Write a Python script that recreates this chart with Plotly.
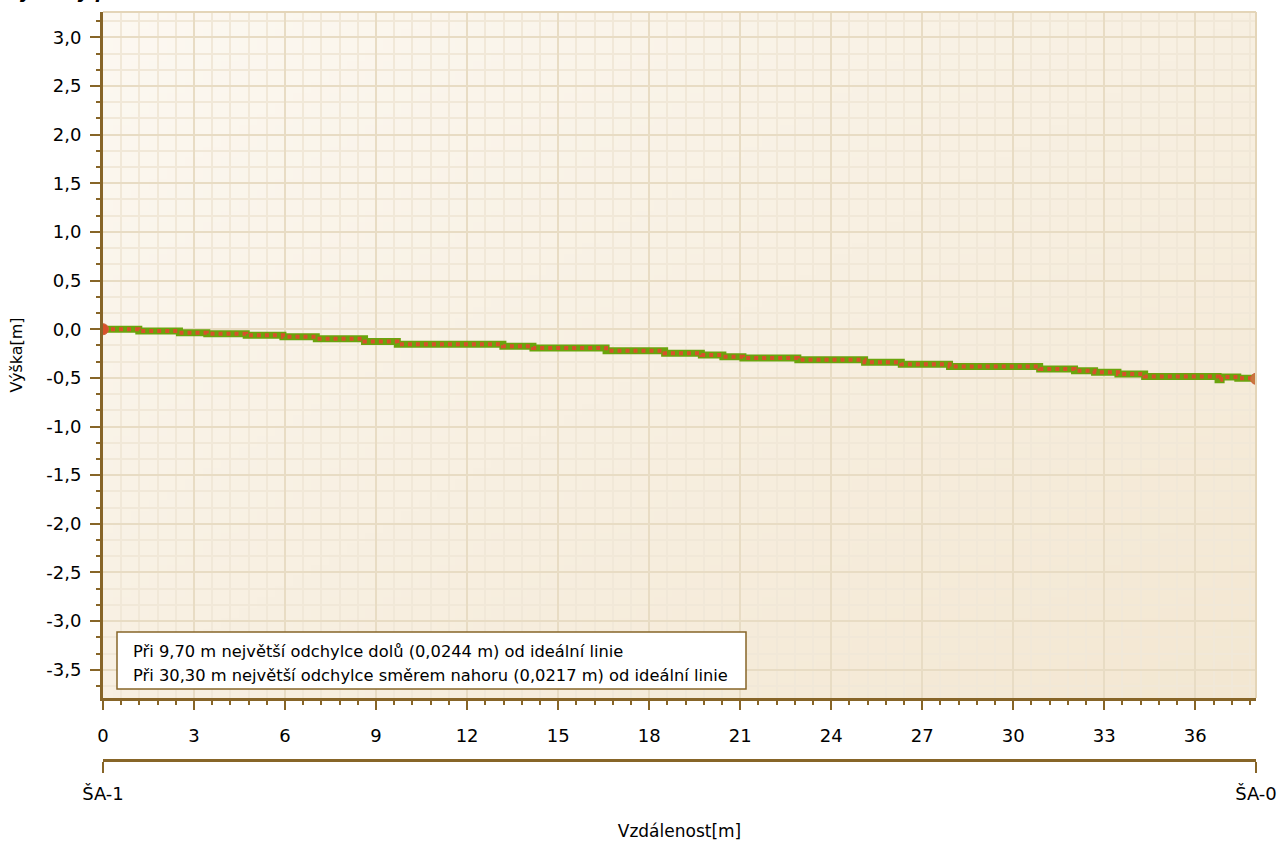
import base64
import struct
import zlib

import plotly.graph_objects as go

# ---------------- data ----------------
step_x = [0.0, 1.18, 2.52, 3.42, 4.72, 5.93, 7.03, 8.62, 9.70, 13.18, 14.17, 16.58,
          18.51, 19.72, 20.43, 21.09, 22.90, 25.10, 26.31, 27.90, 30.87, 32.02,
          32.68, 33.45, 34.33, 36.75, 36.85, 37.40, 38.0]
levels = [0.0, -0.018, -0.036, -0.046, -0.063, -0.077, -0.097, -0.125, -0.155, -0.176,
          -0.193, -0.221, -0.247, -0.265, -0.282, -0.296, -0.313, -0.340, -0.361,
          -0.383, -0.408, -0.426, -0.443, -0.460, -0.485, -0.520, -0.490, -0.505, -0.51]

end_x = [0.0, 38.0]
end_y = [0.0, -0.51]

x_tick_vals = [0, 3, 6, 9, 12, 15, 18, 21, 24, 27, 30, 33, 36]
x_tick_labels = [str(v) for v in x_tick_vals]
y_tick_vals = [3.0, 2.5, 2.0, 1.5, 1.0, 0.5, 0.0, -0.5, -1.0, -1.5, -2.0, -2.5, -3.0, -3.5]
y_tick_labels = ["3,0", "2,5", "2,0", "1,5", "1,0", "0,5", "0,0", "-0,5", "-1,0",
                 "-1,5", "-2,0", "-2,5", "-3,0", "-3,5"]

station_pos = [0.0, 38.0]
station_names = ["ŠA-1", "ŠA-0"]

note_lines = [
    "Při 9,70 m největší odchylce dolů (0,0244 m) od ideální linie",
    "Při 30,30 m největší odchylce směrem nahoru (0,0217 m) od ideální linie",
]

X_RANGE = [0, 38.0]
Y_RANGE = [-3.79, 3.26]

# ---------------- styles ----------------
FONT = "DejaVu Sans"
BROWN = "#876528"
GRID_MAJOR = "#E8DCC4"
GRID_MINOR = "#F1E8D8"
GREEN = "#6AA40C"
RED = "#D8502A"


def gradient_png(w, h, c0, c1):
    rows = b""
    for j in range(h):
        row = bytearray(b"\x00")
        for i in range(w):
            t = (i / (w - 1) + j / (h - 1)) / 2
            row += bytes(round(c0[k] + (c1[k] - c0[k]) * t) for k in range(3))
        rows += bytes(row)

    def chunk(tag, data):
        return (struct.pack(">I", len(data)) + tag + data +
                struct.pack(">I", zlib.crc32(tag + data) & 0xFFFFFFFF))

    png = (b"\x89PNG\r\n\x1a\n" +
           chunk(b"IHDR", struct.pack(">IIBBBBB", w, h, 8, 2, 0, 0, 0)) +
           chunk(b"IDAT", zlib.compress(rows)) + chunk(b"IEND", b""))
    return "data:image/png;base64," + base64.b64encode(png).decode()


bg_src = gradient_png(64, 64, (252, 248, 241), (243, 231, 210))

fig = go.Figure()

fig.add_trace(go.Scatter(
    x=step_x, y=levels, mode="lines", line=dict(color=GREEN, width=7, shape="hv"),
    hoverinfo="skip", showlegend=False))
fig.add_trace(go.Scatter(
    x=step_x, y=levels, mode="lines",
    line=dict(color=RED, width=4, shape="hv", dash="dot"),
    hoverinfo="skip", showlegend=False))
fig.add_trace(go.Scatter(
    x=end_x, y=end_y, mode="markers",
    marker=dict(size=11, color=["#D8502A", "#C8783E"],
                line=dict(color="#D0603A", width=1)),
    hoverinfo="skip", showlegend=False))
fig.add_trace(go.Scatter(
    x=station_pos, y=[None, None], xaxis="x2", mode="markers",
    hoverinfo="skip", showlegend=False))

W, H = 1280, 841
m_l, m_r, m_t, m_b = 103, 24, 12, 81
plot_bottom_px = 698
paper_w = W - m_l - m_r
paper_h = H - m_t - m_b
y_dom0 = (H - m_b - plot_bottom_px) / paper_h


def px_to_paper_x(px):
    return (px - m_l) / paper_w


def px_to_paper_y(py):
    return (H - m_b - py) / paper_h


fig.update_layout(
    width=W, height=H, autosize=False,
    margin=dict(l=m_l, r=m_r, t=m_t, b=m_b, pad=0),
    paper_bgcolor="white", plot_bgcolor="rgba(0,0,0,0)",
    font=dict(family=FONT, size=16, color="black"),
    xaxis=dict(
        range=X_RANGE, anchor="y", automargin=False, tickmode="array",
        tickvals=x_tick_vals, ticktext=x_tick_labels, showline=True, linecolor=BROWN,
        linewidth=3, ticks="outside", ticklen=9, tickwidth=2, tickcolor=BROWN,
        ticklabelstandoff=10,
        showgrid=True, gridcolor=GRID_MAJOR, gridwidth=2, zeroline=False,
        minor=dict(tickmode="linear", tick0=0, dtick=0.6, ticks="outside", ticklen=4,
                   tickwidth=2, tickcolor=BROWN, showgrid=True,
                   gridcolor=GRID_MINOR, gridwidth=1.5),
        tickfont=dict(family=FONT, size=18),
    ),
    xaxis2=dict(
        range=X_RANGE, overlaying="x", anchor="free", position=0, side="bottom",
        automargin=False,
        tickmode="array", tickvals=station_pos, ticktext=station_names,
        showline=True, linecolor=BROWN, linewidth=3, ticks="outside", ticklen=11,
        tickwidth=2, tickcolor=BROWN, showgrid=False, zeroline=False,
        ticklabelstandoff=5,
        tickfont=dict(family=FONT, size=18),
        title=dict(text="Vzdálenost[m]", font=dict(family=FONT, size=17), standoff=23),
    ),
    yaxis=dict(
        range=Y_RANGE, domain=[y_dom0, 1], automargin=False, tickmode="array",
        tickvals=y_tick_vals, ticktext=y_tick_labels, showline=True, linecolor=BROWN,
        linewidth=3, ticks="outside", ticklen=10, tickwidth=2, tickcolor=BROWN,
        ticklabelstandoff=5,
        showgrid=True, gridcolor=GRID_MAJOR, gridwidth=2, zeroline=False,
        minor=dict(tickmode="linear", tick0=0, dtick=1 / 6, ticks="outside", ticklen=4,
                   tickwidth=2, tickcolor=BROWN, showgrid=True,
                   gridcolor=GRID_MINOR, gridwidth=1.5),
        tickfont=dict(family=FONT, size=18),
        title=dict(text="Výška[m]", font=dict(family=FONT, size=16), standoff=20),
    ),
    images=[dict(source=bg_src, xref="x", yref="y", x=X_RANGE[0], y=Y_RANGE[1],
                 sizex=X_RANGE[1] - X_RANGE[0], sizey=Y_RANGE[1] - Y_RANGE[0],
                 sizing="stretch", xanchor="left", yanchor="top", layer="below")],
    shapes=[
        dict(type="line", xref="x domain", yref="y domain", x0=0, x1=1, y0=1, y1=1,
             line=dict(color="#E4D5B8", width=2)),
        dict(type="line", xref="x domain", yref="y domain", x0=1, x1=1, y0=0, y1=1,
             line=dict(color="#E4D5B8", width=2)),
        dict(type="rect", xref="paper", yref="paper",
             x0=px_to_paper_x(117), x1=px_to_paper_x(746),
             y0=px_to_paper_y(689), y1=px_to_paper_y(632),
             fillcolor="white", line=dict(color=BROWN, width=1.5), layer="above"),
    ],
    annotations=[
        dict(text=note_lines[0], xref="paper", yref="paper",
             x=px_to_paper_x(131), y=px_to_paper_y(651),
             xanchor="left", yanchor="middle", align="left", showarrow=False,
             font=dict(family=FONT, size=16.3, color="black")),
        dict(text=note_lines[1], xref="paper", yref="paper",
             x=px_to_paper_x(131), y=px_to_paper_y(675),
             xanchor="left", yanchor="middle", align="left", showarrow=False,
             font=dict(family=FONT, size=16.3, color="black")),
        dict(text="<b><i>Výškový profil</i></b>", xref="paper", yref="paper",
             x=px_to_paper_x(4), y=px_to_paper_y(4),
             xanchor="left", yanchor="bottom", showarrow=False,
             font=dict(family=FONT, size=18, color="black")),
    ],
)

fig.write_html(
    "out.html",
    config={"displayModeBar": False},
    post_script="document.body.style.margin='0';document.body.style.padding='0';",
)
